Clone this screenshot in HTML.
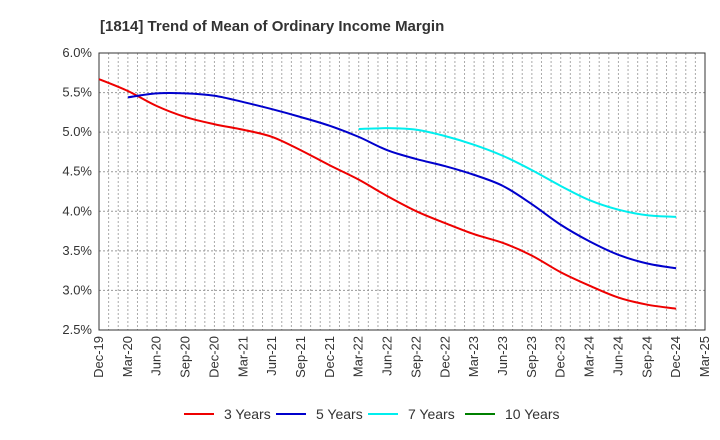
<!DOCTYPE html>
<html><head><meta charset="utf-8"><style>
body{margin:0;background:#fff;}
svg{display:block;font-family:"Liberation Sans",sans-serif;}
</style></head><body>
<svg id="c" width="720" height="440">
<text x="100" y="31" font-size="15" font-weight="bold" fill="#333">[1814]  Trend of Mean of Ordinary Income Margin</text>
<g id="grid"></g><g id="axes"></g><g id="series"></g><g id="legend"></g>
</svg>
<script>
const categories=["Dec-19","Mar-20","Jun-20","Sep-20","Dec-20","Mar-21","Jun-21","Sep-21","Dec-21","Mar-22","Jun-22","Sep-22","Dec-22","Mar-23","Jun-23","Sep-23","Dec-23","Mar-24","Jun-24","Sep-24","Dec-24","Mar-25"];
const yTicks=[2.5,3.0,3.5,4.0,4.5,5.0,5.5,6.0];
const s3=[5.67,5.52,5.33,5.19,5.10,5.03,4.94,4.77,4.58,4.40,4.19,4.00,3.85,3.71,3.60,3.44,3.23,3.06,2.91,2.82,2.77];
const s5=[null,5.44,5.49,5.49,5.46,5.38,5.29,5.19,5.08,4.94,4.77,4.66,4.57,4.46,4.32,4.09,3.83,3.62,3.45,3.34,3.28];
const s7=[null,null,null,null,null,null,null,null,null,5.04,5.05,5.03,4.95,4.84,4.70,4.52,4.32,4.14,4.02,3.95,3.93];
const s10=[];
const seriesNames=["3 Years","5 Years","7 Years","10 Years"];
const colors=["#ee0000","#0000cc","#00eeee","#008000"];
const X0=99,X1=705,Y0=53,Y1=330;
const nQ=categories.length-1;
const xs=i=>X0+(X1-X0)*i/nQ;
const ys=v=>Y1-(v-2.5)/3.5*(Y1-Y0);
const NS="http://www.w3.org/2000/svg";
function mk(tag,attrs,parent){const e=document.createElementNS(NS,tag);for(const k in attrs)e.setAttribute(k,attrs[k]);parent.appendChild(e);return e;}
const grid=document.getElementById('grid'),axes=document.getElementById('axes'),ser=document.getElementById('series'),leg=document.getElementById('legend');
for(let m=1;m<nQ*3;m++){const x=X0+(X1-X0)*m/(nQ*3);
const l=mk('line',{x1:x,x2:x,y1:Y0,y2:Y1,stroke:'#aaa','stroke-dasharray':'2,2','stroke-width':1},grid);

}
yTicks.forEach(v=>{const y=ys(v);
const l=mk('line',{x1:X0,x2:X1,y1:y,y2:y,stroke:'#999','stroke-dasharray':'2,2','stroke-width':1},grid);


const t=mk('text',{x:X0-7,y:y+4,'text-anchor':'end','font-size':13,fill:'#333'},axes);t.textContent=v.toFixed(1)+'%';

});
const fr=mk('rect',{x:X0,y:Y0,width:X1-X0,height:Y1-Y0,fill:'none',stroke:'#333','stroke-width':1},axes);


categories.forEach((c,i)=>{const x=xs(i);
const t=mk('text',{x:0,y:0,transform:`translate(${x+4},${Y1+6}) rotate(-90)`,'text-anchor':'end','font-size':13,fill:'#333'},axes);t.textContent=c;

});
function path(pts){if(pts.length<2)return'';let d=`M${pts[0][0]},${pts[0][1]}`;
for(let i=0;i<pts.length-1;i++){const p0=pts[Math.max(0,i-1)],p1=pts[i],p2=pts[i+1],p3=pts[Math.min(pts.length-1,i+2)];
const c1=[p1[0]+(p2[0]-p0[0])/6,p1[1]+(p2[1]-p0[1])/6],c2=[p2[0]-(p3[0]-p1[0])/6,p2[1]-(p3[1]-p1[1])/6];
d+=` C${c1[0]},${c1[1]} ${c2[0]},${c2[1]} ${p2[0]},${p2[1]}`;}return d;}
[s3,s5,s7,s10].forEach((s,k)=>{const pts=[];s.forEach((v,i)=>{if(v!=null)pts.push([xs(i),ys(v)]);});
if(pts.length<2)return;
const p=mk('path',{d:path(pts),fill:'none',stroke:colors[k],'stroke-width':2},ser);

});
const lx=[184,276,368,465];
seriesNames.forEach((n,k)=>{
const g=mk('g',{},leg);


mk('line',{x1:lx[k],x2:lx[k]+30,y1:414,y2:414,stroke:colors[k],'stroke-width':2},g);
const t=mk('text',{x:lx[k]+40,y:419,'font-size':14,fill:'#333'},g);t.textContent=n;});
</script>
</body></html>
